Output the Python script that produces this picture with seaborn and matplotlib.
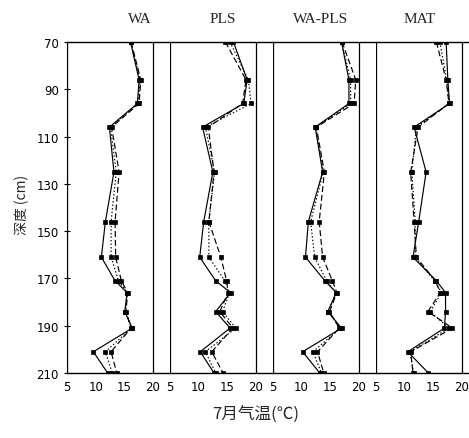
import numpy as np
import pandas as pd
import matplotlib
matplotlib.use("Agg")
import matplotlib.pyplot as plt
import seaborn as sns

# profondeurs (cm) et températures de juillet reconstruites
depth = [70, 86, 96, 106, 125, 146, 161, 171, 176, 184, 191, 201, 210]

wa_solid = [16.1, 17.6, 17.3, 12.4, 13.2, 11.7, 11.0, 13.4, 15.5, 15.1, 16.4, 9.6, 12.1]
wa_dot = [16.1, 17.8, 17.4, 12.6, 13.6, 12.7, 12.7, 14.0, 15.5, 15.2, 16.3, 11.7, 12.9]
wa_dash = [16.2, 17.9, 17.6, 12.8, 14.1, 13.4, 13.5, 14.5, 15.6, 15.3, 16.2, 12.7, 13.7]

pls_solid = [16.1, 18.5, 17.9, 10.7, 12.5, 10.9, 10.2, 13.0, 15.6, 13.0, 15.5, 10.3, 12.7]
pls_dot = [15.5, 18.7, 19.2, 11.2, 12.8, 11.8, 11.8, 14.6, 15.4, 14.2, 16.5, 11.2, 13.0]
pls_dash = [14.7, 18.3, 17.7, 11.7, 12.7, 11.8, 13.9, 14.9, 15.2, 13.7, 16.0, 12.3, 14.3]

wapls_solid = [17.0, 18.3, 18.3, 12.4, 13.7, 11.2, 10.7, 14.1, 16.1, 14.6, 17.0, 10.2, 13.2]
wapls_dot = [17.0, 18.6, 18.6, 12.5, 13.8, 11.6, 12.3, 14.4, 16.0, 14.7, 16.8, 12.0, 13.5]
wapls_dash = [17.1, 19.5, 19.2, 12.6, 14.0, 13.1, 13.7, 15.4, 16.2, 14.9, 16.6, 12.8, 13.9]

mat_solid = [17.3, 17.6, 17.9, 11.7, 13.8, 12.5, 11.5, 15.6, 17.2, 17.2, 17.0, 10.6, 14.2]
mat_dot = [16.2, 17.4, 17.8, 12.1, 11.3, 11.9, 11.9, 15.3, 16.5, 14.5, 17.8, 11.0, 11.6]
mat_dash = [15.6, 17.3, 17.8, 12.4, 11.1, 11.7, 12.1, 15.4, 16.3, 14.1, 18.4, 11.1, 11.5]

methods = ["WA", "PLS", "WA-PLS", "MAT"]
series = {
    "WA": (wa_solid, wa_dot, wa_dash),
    "PLS": (pls_solid, pls_dot, pls_dash),
    "WA-PLS": (wapls_solid, wapls_dot, wapls_dash),
    "MAT": (mat_solid, mat_dot, mat_dash),
}
title_x = [17.7, 14.2, 13.4, 12.7]

sns.set_style("white")
plt.rcParams["font.family"] = ["Liberation Sans Narrow", "DejaVu Sans"]

fig = plt.figure(figsize=(4.69, 4.39), dpi=100)
gs = fig.add_gridspec(1, 4, width_ratios=[18, 18, 18, 16.3], wspace=0,
                      left=0.143, right=1.0, bottom=0.148, top=0.902)

styles = ["solid", "dot", "dash"]
dashes = {"solid": "", "dot": (1.2, 1.8), "dash": (5, 2.5)}
widths = {"solid": 1.0, "dot": 0.8, "dash": 0.8}

for i, m in enumerate(methods):
    ax = fig.add_subplot(gs[0, i])
    rows = []
    for s, vals in zip(styles, series[m]):
        for d, v in zip(depth, vals):
            rows.append({"depth": d, "temp": v, "style": s})
    df = pd.DataFrame(rows)
    sns.lineplot(data=df, x="temp", y="depth", style="style", orient="y",
                 estimator=None, dashes=dashes, markers={s: "s" for s in styles},
                 color="k", lw=0.85, ms=2.4, mec="k", mew=0.5, ax=ax, legend=False)
    ax.axvline(5, color="k", lw=0.9)
    ax.axvline(20, color="k", lw=0.9)
    ax.set_xlim(5, 23 if i < 3 else 21.3)
    ax.set_ylim(210, 70)
    ax.set_xticks([5, 10, 15, 20])
    ax.set_xlabel("")
    ax.set_ylabel("")
    for side in ["left", "right"]:
        ax.spines[side].set_visible(False)
    for side in ["top", "bottom"]:
        ax.spines[side].set_color("k")
        ax.spines[side].set_linewidth(1.0)
    ax.tick_params(axis="x", length=0, labelsize=8.5, pad=5, colors="k")
    if i == 0:
        ax.spines["left"].set_visible(True)
        ax.spines["left"].set_color("k")
        ax.set_yticks(np.arange(70, 211, 20))
        ax.tick_params(axis="y", direction="inout", length=5, labelsize=8.5,
                       colors="k", left=True)
    else:
        ax.set_yticks([])
    ax.text(title_x[i], 63, m, ha="center", va="bottom", fontsize=11,
            family="Liberation Serif", clip_on=False)

fig.text(0.047, 0.533, "深度 (cm)", rotation=90, ha="center", va="center",
         fontsize=10, family=["Noto Sans CJK SC", "DejaVu Sans"])
fig.text(0.544, 0.055, "7月气温(℃)", ha="center", va="center",
         fontsize=12, family=["Noto Sans CJK SC", "DejaVu Sans"])

fig.savefig("out.png", dpi=100)
